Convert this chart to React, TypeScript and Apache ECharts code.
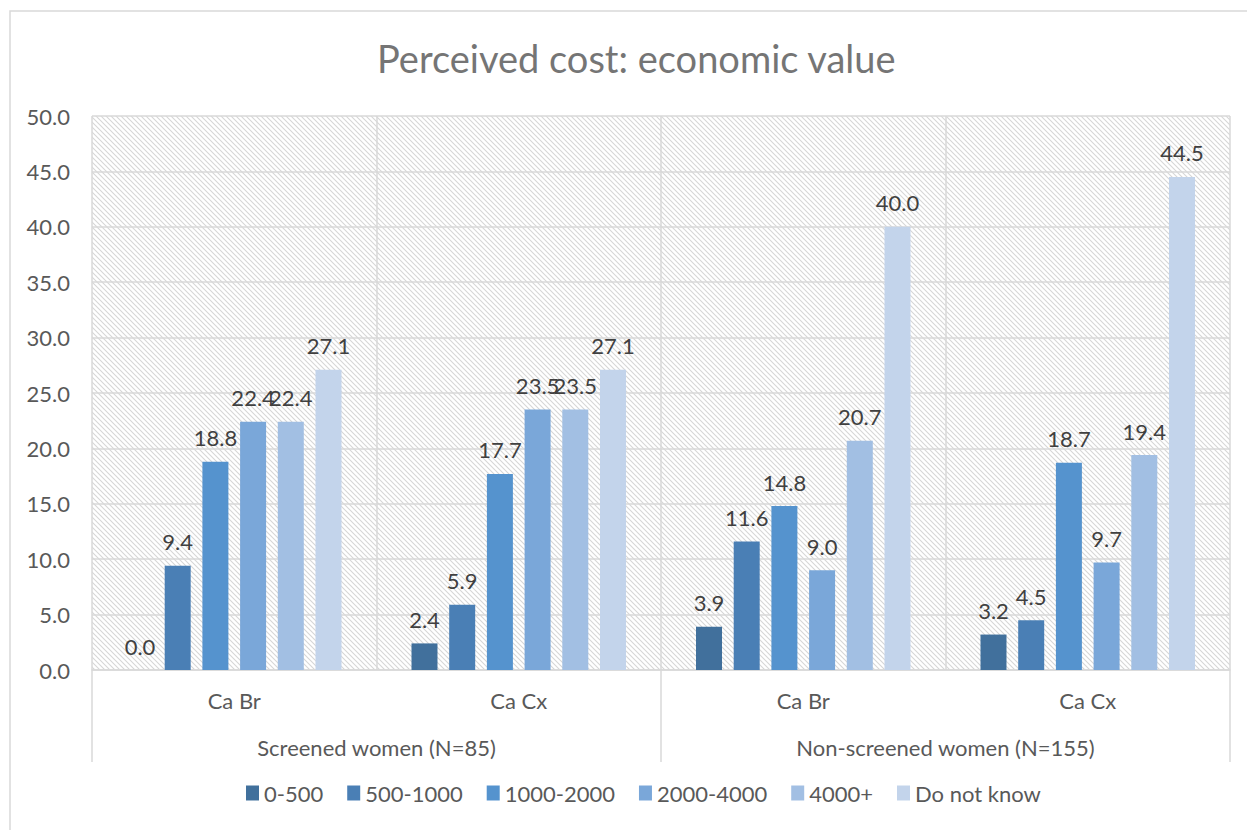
import React, { useEffect, useRef } from "react";
import * as echarts from "echarts";

const categories = ["Ca Br", "Ca Cx", "Ca Br", "Ca Cx"];
const groups = ["Screened women (N=85)", "Non-screened women (N=155)"];
const seriesNames = ["0-500", "500-1000", "1000-2000", "2000-4000", "4000+", "Do not know"];
const s0_500 = [0.0, 2.4, 3.9, 3.2];
const s500_1000 = [9.4, 5.9, 11.6, 4.5];
const s1000_2000 = [18.8, 17.7, 14.8, 18.7];
const s2000_4000 = [22.4, 23.5, 9.0, 9.7];
const s4000plus = [22.4, 23.5, 20.7, 19.4];
const sDoNotKnow = [27.1, 27.1, 40.0, 44.5];
const seriesData = [s0_500, s500_1000, s1000_2000, s2000_4000, s4000plus, sDoNotKnow];
const colors = ["#41709c", "#4a7fb5", "#5593ce", "#7aa7d9", "#a2bfe3", "#c3d4eb"];

const FONT = "Lato, 'Open Sans', sans-serif";

const hatchSvg =
  "data:image/svg+xml;charset=utf-8," +
  encodeURIComponent(
    "<svg xmlns='http://www.w3.org/2000/svg' width='5' height='5'><path d='M-1,-1 L6,6 M-1,4 L1,6 M4,-1 L6,1' stroke='#d6d6d6' stroke-width='1.1' fill='none'/></svg>"
  );

export default function App() {
  const ref = useRef<HTMLDivElement>(null);
  useEffect(() => {
    if (!ref.current) return;
    const chart = echarts.init(ref.current, undefined, { renderer: "svg" });
    const option: any = {
      animation: false,
      backgroundColor: "#ffffff",
      title: {
        text: "Perceived cost: economic value",
        left: 372,
        top: 34,
        textStyle: { fontFamily: FONT, fontSize: 38, fontWeight: "normal", color: "#757575" },
      },
      graphic: [
        {
          type: "rect",
          shape: { x: 10, y: 11, width: 1400, height: 1000 },
          style: { fill: "none", stroke: "#d9d9d9", lineWidth: 1.5 },
          silent: true,
          z: -10,
        },
      ],
      legend: {
        bottom: 21,
        left: 241,
        icon: "rect",
        itemWidth: 13,
        itemHeight: 15,
        itemGap: 24,
        textStyle: { fontFamily: FONT, fontSize: 22, color: "#595959" },
        data: seriesNames,
      },
      grid: {
        left: 92,
        right: 17,
        top: 116,
        bottom: 160,
        show: true,
        borderWidth: 0,
        backgroundColor: {
          image: hatchSvg,
          imageWidth: 5,
          imageHeight: 5,
          repeat: "repeat",
        },
      },
      xAxis: [
        {
          type: "category",
          data: categories,
          axisLine: { show: true, lineStyle: { color: "#d9d9d9", width: 1.5 } },
          axisTick: { show: false },
          splitLine: { show: true, lineStyle: { color: "#d9d9d9", width: 1.5 } },
          axisLabel: { margin: 19, fontFamily: FONT, fontSize: 22, color: "#595959" },
        },
        {
          type: "category",
          position: "bottom",
          data: groups,
          axisLine: { show: false },
          axisTick: { show: true, length: 92, lineStyle: { color: "#d9d9d9", width: 1.5 } },
          axisLabel: { margin: 66, fontFamily: FONT, fontSize: 22, color: "#595959" },
        },
      ],
      yAxis: {
        type: "value",
        min: 0,
        max: 50,
        interval: 5,
        axisLine: { show: false },
        axisTick: { show: false },
        splitLine: { show: true, lineStyle: { color: "#d9d9d9", width: 1.5 } },
        axisLabel: {
          margin: 22,
          fontFamily: FONT,
          fontSize: 22,
          color: "#595959",
          formatter: (v: number) => v.toFixed(1),
        },
      },
      series: seriesNames.map((name, i) => ({
        name,
        type: "bar",
        xAxisIndex: 0,
        data: seriesData[i],
        barWidth: 26,
        barGap: "45%",
        itemStyle: { color: colors[i] },
        label: {
          show: true,
          position: "top",
          distance: 13,
          fontFamily: FONT,
          fontSize: 22,
          color: "#404040",
          formatter: (p: any) => Number(p.value).toFixed(1),
        },
      })),
    };
    chart.setOption(option);
    return () => chart.dispose();
  }, []);
  return (
    <div
      ref={ref}
      style={{ position: "fixed", left: 0, top: 0, width: 1247, height: 830 }}
    />
  );
}
